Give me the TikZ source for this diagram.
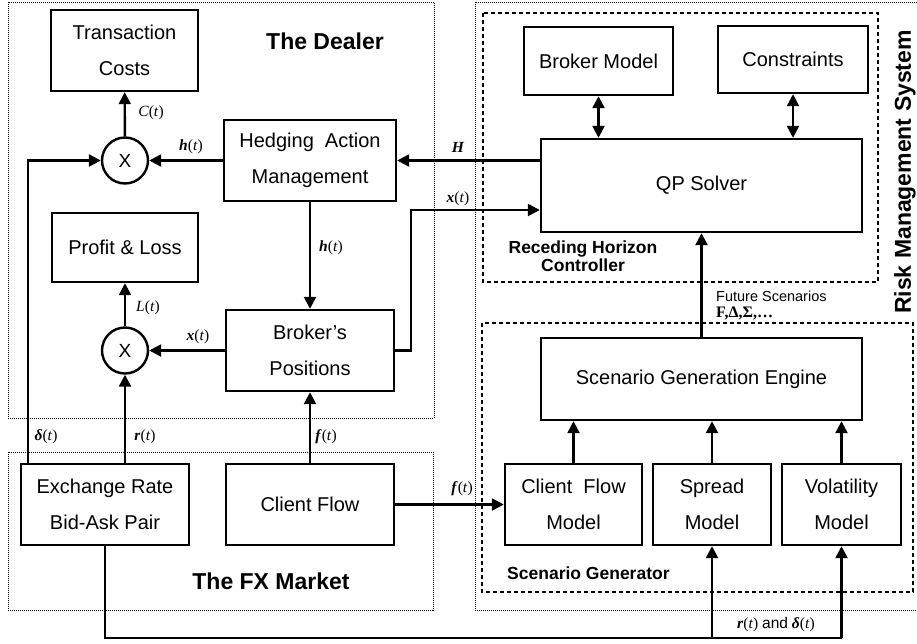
\documentclass[tikz,border=0pt]{standalone}
\usepackage{fontspec}
\setmainfont{Liberation Sans}
\newfontfamily\lserif{Liberation Serif}
\usetikzlibrary{arrows.meta}
\tikzset{
  blk/.style={draw, line width=2.4pt, inner sep=0pt, align=center, font=\fontsize{20}{35.5}\selectfont},
  mult/.style={draw, circle, line width=2.4pt, minimum size=46pt, inner sep=0pt, font=\fontsize{19}{19}\selectfont},
  conn/.style={line width=2.4pt},
  arr/.style={line width=2.4pt, -{Triangle[length=12pt,width=12pt]}},
  arrs/.style={line width=2.4pt, {Triangle[length=12pt,width=12pt]}-{Triangle[length=12pt,width=12pt]}},
  dotbox/.style={densely dotted, line width=1pt},
  dashbox/.style={dash pattern=on 4pt off 3pt, line width=1.6pt},
  lbl/.style={inner sep=0pt, font=\lserif\fontsize{15.5}{15.5}\selectfont},
  title/.style={inner sep=0pt, font=\bfseries\fontsize{23}{23}\selectfont},
  subtitle/.style={inner sep=0pt, align=center, font=\bfseries\fontsize{17.5}{18}\selectfont},
}
\newcommand{\bi}[1]{\textbf{\textit{#1}}}
\begin{document}
\begin{tikzpicture}[x=1pt,y=-1pt]
\useasboundingbox (0,0) rectangle (917,643);
% group frames
\draw[dotbox] (8,2) rectangle (434,418);
\draw[dotbox] (8,452) rectangle (433,610);
\draw[dotbox] (475,2) rectangle (925,610);
\draw[dashbox] (483,13) rectangle (878,282);
\draw[dashbox] (482,323) rectangle (913,592);
% blocks
\node[blk, minimum width=147pt, minimum height=81pt] (TC) at (124.5,50.5) {Transaction\\Costs};
\node[blk, minimum width=172pt, minimum height=81pt] (HAM) at (310,160.5) {Hedging~ Action\\Management};
\node[blk, minimum width=146pt, minimum height=69pt] (PL) at (125,247.5) {Profit \& Loss};
\node[blk, minimum width=168pt, minimum height=81pt] (BP) at (310,350.5) {Broker’s\\Positions};
\node[blk, minimum width=168pt, minimum height=81pt] (ER) at (105,504.5) {Exchange Rate\\Bid-Ask Pair};
\node[blk, minimum width=168pt, minimum height=81pt] (CF) at (310,504.5) {Client Flow};
\node[blk, minimum width=149pt, minimum height=68pt] (BM) at (598.5,61) {Broker Model};
\node[blk, minimum width=150pt, minimum height=67pt] (CO) at (793,59.5) {Constraints};
\node[blk, minimum width=321pt, minimum height=93pt] (QP) at (701.5,185.5) {QP Solver};
\node[blk, minimum width=321pt, minimum height=82pt] (SGE) at (701.5,379) {Scenario Generation Engine};
\node[blk, minimum width=137pt, minimum height=81pt] (CFM) at (573.5,504.5) {Client~ Flow\\Model};
\node[blk, minimum width=118pt, minimum height=81pt] (SM) at (712,504.5) {Spread\\Model};
\node[blk, minimum width=119pt, minimum height=81pt] (VM) at (841.5,504.5) {Volatility\\Model};
\node[mult] (c1) at (125,160.5) {X};
\node[mult] (c2) at (125,350.5) {X};
% titles
\node[title] (tdealer) at (325,41) {The Dealer};
\node[title] (tfx) at (271,581) {The FX Market};
\node[subtitle] (trhc) at (583,256) {Receding Horizon\\Controller};
\node[subtitle, anchor=west] (tsg) at (507,573) {Scenario Generator};
\node[title, rotate=90, font=\bfseries\fontsize{23}{23}\selectfont] (trms) at (905,172) {Risk Management System};
% connectors
\draw[arr] (c1) -- (TC);
\draw[arr] (HAM.west) -- (c1.east);
\draw[arr] ([xshift=8pt]ER.north west) |- (c1.west);
\draw[arr] (HAM) -- (BP);
\draw[arr] (BP.west) -- (c2.east);
\draw[arr] (c2) -- (PL);
\draw[arr] (ER.north -| c2) -- (c2.south);
\draw[arr] (CF) -- (BP);
\coordinate (xk) at (411,210);
\draw[arr] (BP.east) -| (xk) -- (xk -| QP.west);
\draw[arr] (QP.west |- HAM) -- (HAM.east);
\draw[arrs] (BM.south) -- (BM.south |- QP.north);
\draw[arrs] (CO.south) -- (CO.south |- QP.north);
\draw[arr] (SGE.north) -- (QP.south);
\draw[arr] (CF.east) -- (CFM.west);
\draw[arr] (CFM.north) -- (CFM.north |- SGE.south);
\draw[arr] (SM.north) -- (SM.north |- SGE.south);
\draw[arr] (VM.north) -- (VM.north |- SGE.south);
\coordinate (bot) at (0,638);
\draw[conn] (ER.south) -- (ER.south |- bot) -- (VM.south |- bot);
\draw[arr] (SM.south |- bot) -- (SM.south);
\draw[arr] (VM.south |- bot) -- (VM.south);
% signal labels
\node[lbl] (lC) at (151,113) {\textit{C}(\textit{t})};
\node[lbl] (lh1) at (191,147) {\bi{h}(\textit{t})};
\node[lbl] (lh2) at (331,248) {\bi{h}(\textit{t})};
\node[lbl] (lx1) at (198,337) {\bi{x}(\textit{t})};
\node[lbl] (lL) at (148,308) {\textit{L}(\textit{t})};
\node[lbl] (ld) at (46,437) {\bi{δ}(\textit{t})};
\node[lbl] (lr) at (145,437) {\bi{r}(\textit{t})};
\node[lbl] (lf1) at (326,437) {\bi{f}(\textit{t})};
\node[lbl] (lx2) at (458,199) {\bi{x}(\textit{t})};
\node[lbl] (lH) at (458,147) {\bi{H}};
\node[lbl] (lf2) at (462,489) {\bi{f}(\textit{t})};
\node[inner sep=0pt, anchor=base west, font=\fontsize{14.5}{14.5}\selectfont] (lfs) at (716,301) {Future Scenarios};
\node[inner sep=0pt, anchor=base west, font=\lserif\fontsize{16}{16}\selectfont] (lfds) at (716,317) {\textbf{F,Δ,Σ,…}};
\node[lbl] (lrd) at (776,625) {\bi{r}(\textit{t}) {\fontspec{Liberation Sans}and} \bi{δ}(\textit{t})};
\end{tikzpicture}
\end{document}
